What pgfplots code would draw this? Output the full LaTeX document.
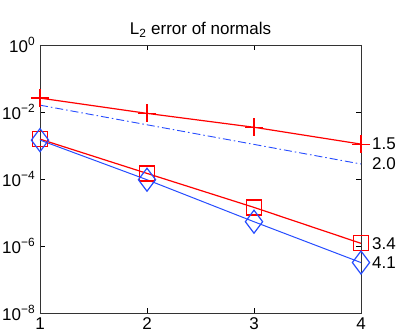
\documentclass[border=0pt]{standalone}
\usepackage{fontspec}
\setmainfont{Liberation Sans}
\usepackage{pgfplots}
\pgfplotsset{compat=1.18}
\definecolor{mred}{rgb}{1,0,0}
\definecolor{mblue}{rgb}{0.15,0.3,1}
\begin{document}
\fontsize{17}{20}\selectfont
\begin{tikzpicture}[font=\fontsize{17}{20}\selectfont]
\useasboundingbox (-40pt,-23pt) rectangle (367pt,313pt);
\begin{axis}[
  scale only axis, width=321pt, height=268pt,
  at={(0pt,0pt)}, anchor=south west,
  ymode=log, xmin=1, xmax=4, ymin=1e-8, ymax=1,
  xtick={1,2,3,4},
  ytick={1e-8,1e-6,1e-4,1e-2,1},
  yticklabels={10\textsuperscript{−8},10\textsuperscript{−6},10\textsuperscript{−4},10\textsuperscript{−2},10\textsuperscript{0}},
  minor y tick num=0, minor ytick={},
  /pgf/number format/assume math mode=true,
  tick align=inside, major tick length=5pt,
  axis line style={black!80, line width=0.7pt},
  tick style={black, line width=0.6pt},
  clip=false,
  title={L\textsubscript{2} error of normals},
  title style={yshift=-4pt, font=\fontsize{17}{20}\selectfont},
  ticklabel style={font=\fontsize{17}{20}\selectfont},
  xticklabel style={yshift=1pt},
  yticklabel style={xshift=1pt},
]
\addplot[color=mred, line width=1.2pt, mark=+, mark size=9pt, mark options={draw=mred, line width=1.2pt}] coordinates {(1,2.6e-2) (2,9.1e-3) (3,3.5e-3) (4,1.1e-3)};
\addplot[color=mblue, line width=0.9pt, dash pattern=on 8pt off 3pt on 1.5pt off 3pt] coordinates {(1,1.6e-2) (4,2.8e-4)};
\addplot[color=mred, line width=1.2pt, mark=square*, mark size=7.5pt, mark options={draw=mred, fill=mred, fill opacity=0, draw opacity=1, line width=1.3pt, solid}] coordinates {(1,1.55e-3) (2,1.47e-4) (3,1.42e-5) (4,1.2e-6)};
\addplot[color=mblue, line width=1pt, mark=diamond, mark size=11.5pt, mark options={draw=mblue, fill=none, line width=1.2pt, solid}] coordinates {(1,1.45e-3) (2,9.5e-5) (3,5.3e-6) (4,3.2e-7)};
\node[anchor=west, inner sep=0pt] at (axis cs:4,1.1e-3) [xshift=11pt] {1.5};
\node[anchor=west, inner sep=0pt] at (axis cs:4,2.8e-4) [xshift=11pt] {2.0};
\node[anchor=west, inner sep=0pt] at (axis cs:4,1.2e-6) [xshift=11pt] {3.4};
\node[anchor=west, inner sep=0pt] at (axis cs:4,3.2e-7) [xshift=11pt] {4.1};
\end{axis}
\end{tikzpicture}
\end{document}
